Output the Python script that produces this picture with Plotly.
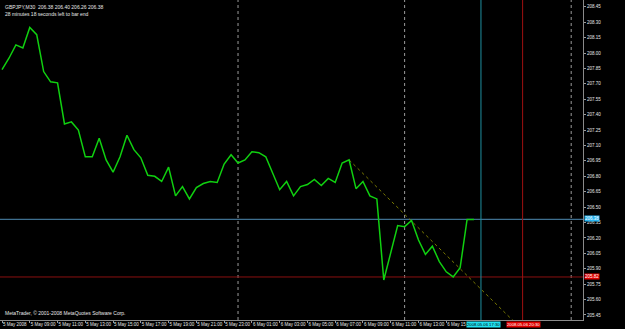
import plotly.graph_objects as go

# ---- data (GBPJPY M30 closes, bar index from 5 May 2008 07:00) ----
closes = [207.84, 207.95, 208.08, 208.05, 208.25, 208.18, 207.82, 207.72, 207.71, 207.31,
          207.33, 207.25, 206.99, 206.99, 207.17, 206.96, 206.84, 206.99, 207.20, 207.06,
          206.98, 206.81, 206.80, 206.75, 206.89, 206.61, 206.70, 206.58, 206.69, 206.73,
          206.75, 206.74, 206.92, 207.01, 206.93, 206.96, 207.04, 207.03, 206.99, 206.83,
          206.67, 206.75, 206.61, 206.70, 206.72, 206.77, 206.71, 206.78, 206.74, 206.93,
          206.96, 206.68, 206.75, 206.61, 206.58, 205.79, 206.05, 206.32, 206.31, 206.37,
          206.18, 206.04, 206.12, 205.97, 205.87, 205.82, 205.91, 206.38, 206.38]
bars = list(range(len(closes)))

x_tick_bars = [0, 4, 8, 12, 16, 20, 24, 28, 32, 36, 40, 44, 48, 52, 56, 60, 64]
x_tick_labels = ["5 May 2008", "5 May 09:00", "5 May 11:00", "5 May 13:00", "5 May 15:00",
                 "5 May 17:00", "5 May 19:00", "5 May 21:00", "5 May 23:00", "6 May 01:00",
                 "6 May 03:00", "6 May 05:00", "6 May 07:00", "6 May 09:00", "6 May 11:00",
                 "6 May 13:00", "6 May 15"]
y_ticks = [205.45, 205.60, 205.75, 205.90, 206.05, 206.20, 206.35, 206.50, 206.65, 206.80,
           206.95, 207.10, 207.25, 207.40, 207.55, 207.70, 207.85, 208.00, 208.15, 208.30, 208.45]

separator_bars = [34, 58, 82]          # 6 May 00:00, 12:00, 7 May 00:00
bid_price = 206.38
red_level = 205.82
cyan_bar, cyan_label = 69, "2008.05.06 17:30"
red_bar, red_label = 75, "2008.05.06 20:30"
trend_bars = [50, 74]
trend_prices = [206.96, 205.37]

x_range = [-0.29, 83.7]
y_range = [205.401, 208.517]

FS = 4.5
FONT = "Liberation Sans"

fig = go.Figure()

# trend line
fig.add_trace(go.Scatter(x=trend_bars, y=trend_prices, mode="lines",
                         line=dict(color="#7a7a00", width=1, dash="dot"),
                         hoverinfo="skip", showlegend=False))
# price line
fig.add_trace(go.Scatter(x=bars, y=closes, mode="lines",
                         line=dict(color="#10d010", width=1.5),
                         showlegend=False))

shapes = []
for b in separator_bars:
    shapes.append(dict(type="line", xref="x", yref="paper", x0=b, x1=b, y0=0, y1=1,
                       line=dict(color="#9a9a9a", width=1, dash="dot"), layer="below"))
shapes.append(dict(type="line", xref="paper", yref="y", x0=0, x1=1, y0=bid_price, y1=bid_price,
                   line=dict(color="#3f6f8f", width=1.2), layer="below"))
shapes.append(dict(type="line", xref="paper", yref="y", x0=0, x1=1, y0=red_level, y1=red_level,
                   line=dict(color="#8a1010", width=1), layer="below"))
shapes.append(dict(type="line", xref="x", yref="paper", x0=cyan_bar, x1=cyan_bar, y0=0, y1=1,
                   line=dict(color="#1f8fa0", width=1), layer="below"))
shapes.append(dict(type="line", xref="x", yref="paper", x0=red_bar, x1=red_bar, y0=0, y1=1,
                   line=dict(color="#a01010", width=1), layer="below"))

small = dict(family=FONT, size=FS, color="#e8e8e8")
annotations = [
    dict(xref="paper", yref="paper", x=0.005, y=0.995, xanchor="left", yanchor="top",
         text="GBPJPY,M30  206.38 206.40 206.26 206.38<br>28 minutes 18 seconds left to bar end",
         showarrow=False, align="left", font=dict(family=FONT, size=5, color="#e8e8e8")),
    dict(xref="paper", yref="paper", x=0.005, y=0.005, xanchor="left", yanchor="bottom",
         text="MetaTrader, © 2001-2008 MetaQuotes Software Corp.",
         showarrow=False, align="left", font=dict(family=FONT, size=5, color="#e8e8e8")),
    dict(xref="paper", yref="y", x=1.0, y=bid_price, xanchor="left", yanchor="middle",
         text="206.38", showarrow=False, bgcolor="#28b4f0",
         font=dict(family=FONT, size=FS, color="#ffffff"), borderpad=0, xshift=1, yshift=1),
    dict(xref="paper", yref="y", x=1.0, y=red_level, xanchor="left", yanchor="middle",
         text="205.82", showarrow=False, bgcolor="#e00000",
         font=dict(family=FONT, size=FS, color="#ffffff"), borderpad=0, xshift=1),
    dict(xref="x", yref="paper", x=cyan_bar, y=0, xanchor="center", yanchor="top",
         text=cyan_label, showarrow=False, bgcolor="#20e0f0",
         font=dict(family=FONT, size=4.2, color="#000000"), borderpad=0, yshift=-1, xshift=3),
    dict(xref="x", yref="paper", x=red_bar, y=0, xanchor="center", yanchor="top",
         text=red_label, showarrow=False, bgcolor="#e00000",
         font=dict(family=FONT, size=4.2, color="#ffffff"), borderpad=0, yshift=-1, xshift=1),
]

fig.update_layout(
    width=625, height=329,
    margin=dict(l=0, r=42, t=0, b=9, autoexpand=False),
    paper_bgcolor="#000000", plot_bgcolor="#000000",
    shapes=shapes, annotations=annotations,
    showlegend=False,
    xaxis=dict(range=x_range, tickmode="array", tickvals=x_tick_bars, ticktext=x_tick_labels,
               ticks="outside", ticklen=2, tickcolor="#9a9a9a", tickangle=0, automargin=False,
               ticklabelposition="outside right",
               tickfont=small,
               showgrid=False, zeroline=False,
               showline=True, linecolor="#8a8a8a", linewidth=1, mirror=True),
    yaxis=dict(range=y_range, side="right", tickmode="array", tickvals=y_ticks,
               ticktext=[f"{v:.2f}" for v in y_ticks], automargin=False,
               ticks="outside", ticklen=2, tickcolor="#9a9a9a",
               tickfont=small,
               showgrid=False, zeroline=False,
               showline=True, linecolor="#8a8a8a", linewidth=1, mirror=True),
)

fig.write_html("out.html")
